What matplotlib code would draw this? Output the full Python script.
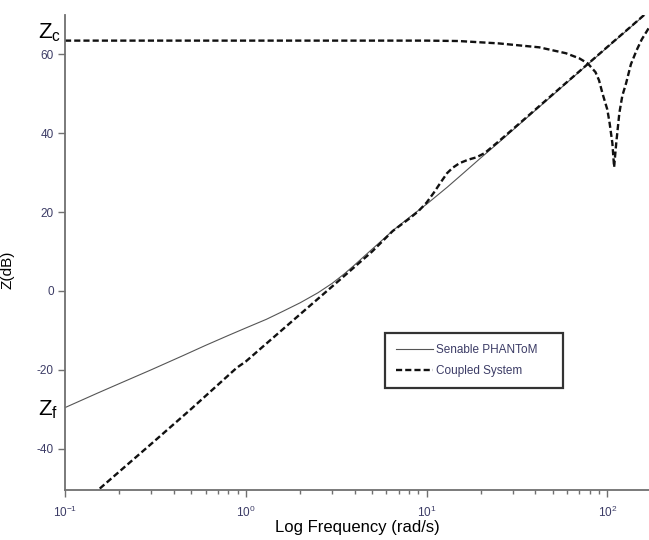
# %% imports

import numpy as np
import matplotlib
matplotlib.use("Agg")
import matplotlib.pyplot as plt

plt.rcParams["font.family"] = ["Liberation Sans", "DejaVu Sans"]
plt.rcParams["axes.unicode_minus"] = False

# values (frequency in rad/s, impedance in dB)
phantom_w = [0.1, 0.15, 0.2, 0.3, 0.45, 0.6, 0.8, 1.0, 1.3, 1.6, 2.0, 2.5, 3.0,
             3.5, 4.0, 4.7, 5.5, 6.5, 8.0, 10.0, 13.0, 16.0, 20.0, 25.0, 35.0,
             50.0, 70.0, 100.0, 140.0, 175.0]
phantom_db = [-29.6, -26.0, -23.5, -20.0, -16.4, -13.8, -11.3, -9.4, -7.2, -5.2,
              -3.0, -0.5, 1.9, 4.3, 6.6, 9.5, 12.3, 15.3, 18.6, 22.0, 26.3, 29.9,
              33.8, 37.6, 43.5, 49.7, 55.6, 61.8, 67.6, 71.5]

coupled_w = [0.1, 0.156, 0.3, 0.5, 0.891, 1.0, 2.0, 3.0, 4.0, 5.0, 6.5, 8.0, 9.0,
             10.0, 11.0, 12.0, 13.0, 14.0, 15.2, 17.0, 18.9, 21.0, 25.0, 35.0,
             50.0, 70.0, 100.0, 140.0, 175.0]
coupled_db = [-57.8, -50.1, -38.8, -29.9, -19.5, -17.9, -5.9, 1.1, 6.1, 10.0, 15.2,
              18.3, 20.2, 22.4, 25.0, 27.6, 29.9, 31.3, 32.4, 33.3, 33.9, 35.0,
              37.9, 43.7, 49.9, 55.7, 61.9, 67.7, 71.6]

# upper branch of the coupled system (starts at Zc)
upper_w = [0.1, 1.0, 10.0, 15.0, 25.0, 42.0, 59.0, 70.0, 78.0, 86.0, 90.0, 94.0,
           100.0, 103.0, 106.6, 109.0, 112.0, 116.5, 121.0, 127.0, 135.0, 145.0,
           155.0, 169.0]
upper_db = [63.5, 63.5, 63.5, 63.4, 62.8, 61.8, 60.3, 59.0, 57.7, 55.5, 53.4, 50.1,
            46.0, 42.5, 37.5, 31.4, 37.5, 45.1, 49.5, 52.7, 57.5, 61.0, 63.8, 66.6]

ytick_vals = [-40, -20, 0, 20, 40, 60]
tick_color = "#3c3c66"
axis_color = "#707070"

# define figure
fig = plt.figure(figsize=(6.49, 5.40), dpi=100)
ax = fig.add_axes([65 / 649, 50 / 540, 584 / 649, 475 / 540])

dash = (0, (2.6, 1.3))
ax.plot(phantom_w, phantom_db, color="#555555", lw=0.8, label="Senable PHANToM")
ax.plot(coupled_w, coupled_db, color="#111111", lw=1.7, ls=dash, label="Coupled System")
ax.plot(upper_w, upper_db, color="#111111", lw=1.7, ls=dash)

ax.set_xscale("log")
ax.set_xlim(0.1, 170)
ax.set_ylim(-50.5, 70)
ax.set_yticks(ytick_vals)

for side in ["top", "right"]:
    ax.spines[side].set_visible(False)
for side in ["left", "bottom"]:
    ax.spines[side].set_color(axis_color)
    ax.spines[side].set_linewidth(1.3)

ax.tick_params(axis="both", which="major", direction="out", length=5, width=1,
               color=axis_color, labelsize=8.5, labelcolor=tick_color, pad=3)
ax.tick_params(axis="x", which="minor", direction="out", length=3, width=1,
               color=axis_color)
ax.tick_params(axis="x", which="major", pad=6)

ax.set_xlabel("Log Frequency (rad/s)", fontsize=12, labelpad=0)
ax.set_ylabel("Z(dB)", fontsize=11)
ax.yaxis.set_label_coords(-0.086, 0.463)

# impedance labels left of the axis
fig.text(38 / 649, 1 - 38 / 540, r"$\mathregular{Z_c}$", fontsize=16,
         va="baseline", ha="left")
fig.text(38 / 649, 1 - 415 / 540, r"$\mathregular{Z_f}$", fontsize=16,
         va="baseline", ha="left")

leg = ax.legend(loc="upper left", bbox_to_anchor=(0.548, 0.331, 0.305, 0),
                mode="expand", fontsize=8.5, frameon=True, fancybox=False,
                edgecolor="black", handlelength=3.1, handletextpad=0.3,
                borderpad=0.95, labelspacing=0.75, borderaxespad=0)
leg.get_frame().set_linewidth(1.6)
for t in leg.get_texts():
    t.set_color(tick_color)

plt.savefig("out.png", dpi=100)
